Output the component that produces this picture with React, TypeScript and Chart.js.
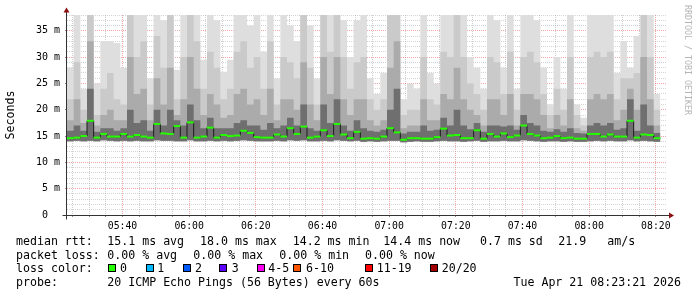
import React, { useEffect, useRef } from 'react';
import { Chart, registerables } from 'chart.js';

Chart.register(...registerables);

// Time axis in minutes after 05:00 (view: 05:23:21 .. 08:23:21)
const VIEW_START = 23.35;
const VIEW_END = 203.35;
const FIRST_BUCKET = 23.35;
const BUCKET_MIN = 2;
const Y_MAX = 38;

// median RTT (ms) per 2-minute bucket
const median = [
  14.6, 14.7, 15.0, 17.9, 14.7, 15.4, 14.9, 14.9, 15.4, 14.9,
  15.2, 14.9, 14.7, 17.3, 15.5, 15.4, 16.9, 14.7, 17.6, 14.7,
  14.9, 16.6, 14.7, 15.2, 15.0, 15.1, 16.0, 15.6, 14.8, 14.7,
  14.7, 15.3, 14.9, 16.5, 15.4, 16.8, 14.7, 14.9, 16.1, 15.0,
  17.3, 15.3, 14.6, 15.8, 14.5, 14.6, 14.5, 14.9, 16.5, 15.7,
  14.3, 14.6, 14.6, 14.5, 14.5, 14.8, 16.4, 15.1, 15.2, 14.6,
  14.6, 16.1, 14.5, 15.4, 14.9, 15.5, 14.8, 15.1, 17.0, 15.4,
  15.1, 14.6, 14.7, 15.0, 14.6, 14.7, 14.5, 14.5, 15.4, 15.4,
  14.9, 15.3, 14.9, 14.9, 17.9, 14.7, 15.3, 15.2, 14.6,
];

// smoke: lowest ping per bucket
const smokeLow = [
  14.0, 14.1, 14.0, 14.1, 14.0, 14.2, 14.1, 14.0, 14.1, 14.0,
  14.1, 14.0, 14.0, 14.2, 14.1, 14.1, 14.0, 14.0, 14.2, 14.0,
  14.0, 14.1, 14.0, 14.1, 14.0, 14.1, 14.2, 14.1, 14.0, 14.0,
  14.0, 14.1, 14.0, 14.2, 14.1, 14.2, 14.0, 14.0, 14.1, 14.0,
  14.2, 14.1, 14.0, 14.1, 13.9, 14.0, 13.9, 14.0, 14.1, 14.1,
  13.8, 13.9, 14.0, 13.9, 13.9, 14.0, 14.1, 14.0, 14.0, 13.9,
  14.0, 14.1, 13.9, 14.0, 14.0, 14.1, 14.0, 14.0, 14.2, 14.1,
  14.0, 13.9, 14.0, 14.0, 13.9, 14.0, 13.9, 13.9, 14.0, 14.1,
  14.0, 14.1, 14.0, 14.0, 14.2, 14.0, 14.1, 14.0, 13.9,
];

// smoke: top of darkest band
const smokeDark = [
  16.0, 17.0, 16.0, 24.0, 15.8, 16.5, 16.5, 16.0, 16.5, 20.0,
  17.5, 18.0, 16.0, 20.0, 17.0, 20.0, 18.0, 17.0, 21.0, 18.0,
  16.5, 18.5, 16.5, 16.5, 16.5, 17.5, 18.0, 17.0, 17.0, 16.2,
  17.5, 16.5, 17.0, 18.5, 17.0, 21.0, 16.5, 16.0, 21.0, 17.5,
  22.0, 17.0, 16.0, 18.0, 16.5, 16.0, 15.8, 16.2, 20.0, 24.0,
  15.5, 15.8, 15.8, 17.0, 16.0, 16.2, 18.5, 17.0, 20.0, 17.0,
  16.3, 17.5, 15.8, 17.0, 17.0, 16.8, 17.0, 16.2, 19.0, 17.5,
  17.0, 16.0, 15.8, 16.3, 15.8, 16.5, 15.6, 15.5, 17.0, 17.5,
  17.0, 17.5, 16.2, 16.5, 22.0, 16.0, 21.0, 17.0, 15.6,
];

// smoke: top of mid band
const smokeMid = [
  18.0, 22.0, 17.5, 33.0, 17.0, 19.0, 20.0, 18.0, 18.0, 30.0,
  23.0, 24.0, 18.0, 26.0, 21.0, 28.0, 19.0, 22.0, 30.0, 24.0,
  19.0, 23.0, 21.0, 18.5, 19.0, 23.0, 24.0, 21.0, 22.0, 19.0,
  24.0, 18.0, 22.0, 22.0, 20.0, 29.0, 21.0, 18.0, 30.0, 23.0,
  30.0, 22.0, 19.0, 22.0, 22.0, 18.0, 17.0, 18.0, 28.0, 33.0,
  16.5, 17.0, 17.0, 22.0, 18.0, 18.0, 23.0, 22.0, 28.0, 22.0,
  20.0, 19.0, 17.0, 22.0, 22.0, 19.0, 23.0, 17.0, 23.0, 23.0,
  22.0, 19.0, 16.5, 19.0, 17.0, 22.0, 16.5, 16.0, 22.0, 23.0,
  22.0, 23.0, 18.0, 20.0, 24.0, 20.0, 30.0, 22.0, 17.0,
];

// smoke: top of light band
const smokeLight = [
  22, 29, 20, 38, 19, 24, 27, 22, 21, 38,
  30, 33, 21, 34, 28, 38, 22, 30, 38, 33,
  24, 31, 28, 22, 24, 31, 33, 28, 30, 24,
  33, 21, 30, 29, 26, 38, 28, 21, 38, 31,
  38, 30, 24, 29, 30, 22, 20, 22, 38, 38,
  19, 20, 20, 30, 22, 21, 31, 30, 38, 30,
  25, 23, 20, 30, 29, 23, 31, 20, 30, 31,
  29, 23, 19, 24, 20, 30, 19, 17, 30, 31,
  30, 31, 22, 26, 26, 27, 38, 30, 20,
];

// smoke: highest ping per bucket (clipped at axis top)
const smokeMax = [
  28, 38, 24, 38, 25, 33, 33, 32.7, 28, 38,
  38, 38, 26, 38, 37, 38, 27.6, 38, 38, 38,
  29.5, 38, 37, 27.2, 29.5, 38, 38, 36, 38, 31,
  38, 26, 38, 36, 33, 38, 36, 26, 38, 38,
  38, 37, 30, 37, 38, 26, 23, 27, 38, 38,
  22, 25, 24, 38, 27, 25, 38, 38, 38, 38,
  30, 28, 24, 38, 37, 28, 38, 24, 38, 38,
  37, 28, 21, 30, 24, 38, 21, 18.5, 38, 38,
  38, 38, 27, 33, 28, 34, 30, 38, 23,
];

const xGridMinutes = [25, 30, 35, 40, 45, 50, 55, 60, 65, 70, 75, 80, 85, 90, 95, 100, 105, 110, 115, 120, 125, 130, 135, 140, 145, 150, 155, 160, 165, 170, 175, 180, 185, 190, 195, 200];
const xLabelMinutes = [40, 60, 80, 100, 120, 140, 160, 180, 200];
const xLabelTexts = ['05:40', '06:00', '06:20', '06:40', '07:00', '07:20', '07:40', '08:00', '08:20'];
const yGridValues = [0, 1, 2, 3, 4, 5, 6, 7, 8, 9, 10, 11, 12, 13, 14, 15, 16, 17, 18, 19, 20, 21, 22, 23, 24, 25, 26, 27, 28, 29, 30, 31, 32, 33, 34, 35, 36, 37, 38];
const yLabelValues = [0, 5, 10, 15, 20, 25, 30, 35];
const yLabelTexts = ['0  ', '5 m', '10 m', '15 m', '20 m', '25 m', '30 m', '35 m'];

const rttStats = ['15.1 ms avg', '18.0 ms max', '14.2 ms min', '14.4 ms now', '0.7 ms sd', '21.9', 'am/s'];
const lossStats = ['0.00 % avg', '0.00 % max', '0.00 % min', '0.00 % now'];
const lossLabels = ['0', '1', '2', '3', '4-5', '6-10', '11-19', '20/20'];
const lossColors = ['#26ff00', '#00b8ff', '#0059ff', '#5e00ff', '#ff00f5', '#ff5500', '#ff0000', '#a10000'];
const probeText = '20 ICMP Echo Pings (56 Bytes) every 60s';
const stampText = 'Tue Apr 21 08:23:21 2026';
const yTitle = 'Seconds';
const watermark = 'RRDTOOL / TOBI OETIKER';

const MONO = '"DejaVu Sans Mono", monospace';

function stepPoints(arr: number[]) {
  const pts = arr.map((v, i) => ({ x: FIRST_BUCKET + i * BUCKET_MIN, y: v }));
  pts.push({ x: FIRST_BUCKET + arr.length * BUCKET_MIN, y: arr[arr.length - 1] });
  return pts;
}

const overlayPlugin = {
  id: 'rrdOverlay',
  afterDraw(chart: any) {
    const { ctx, chartArea: a } = chart;
    ctx.save();
    const ax = Math.round(a.left) - 0.5;
    const ay = Math.round(a.bottom) + 0.5;
    // axes
    ctx.strokeStyle = '#333333';
    ctx.lineWidth = 1;
    ctx.setLineDash([]);
    ctx.beginPath();
    ctx.moveTo(ax, a.top - 3);
    ctx.lineTo(ax, ay + 4);
    ctx.stroke();
    ctx.beginPath();
    ctx.moveTo(ax - 4, ay);
    ctx.lineTo(a.right + 2, ay);
    ctx.stroke();
    // arrows
    ctx.fillStyle = '#8c1111';
    ctx.beginPath();
    ctx.moveTo(ax - 3, a.top - 2.5);
    ctx.lineTo(ax + 3, a.top - 2.5);
    ctx.lineTo(ax, a.top - 7.5);
    ctx.closePath();
    ctx.fill();
    ctx.beginPath();
    ctx.moveTo(a.right + 2, ay - 3);
    ctx.lineTo(a.right + 2, ay + 3);
    ctx.lineTo(a.right + 7, ay);
    ctx.closePath();
    ctx.fill();

    // y title
    ctx.fillStyle = '#000';
    ctx.font = `11.6px ${MONO}`;
    ctx.save();
    ctx.translate(11, (a.top + a.bottom) / 2);
    ctx.rotate(-Math.PI / 2);
    ctx.textAlign = 'center';
    ctx.textBaseline = 'middle';
    ctx.fillText(yTitle, 0, 0);
    ctx.restore();

    // watermark
    ctx.save();
    ctx.fillStyle = '#b4b4b4';
    ctx.font = `8.3px ${MONO}`;
    ctx.translate(687, 5);
    ctx.rotate(Math.PI / 2);
    ctx.textAlign = 'left';
    ctx.textBaseline = 'middle';
    ctx.fillText(watermark, 0, 0);
    ctx.restore();

    // legend
    ctx.font = `11.6px ${MONO}`;
    ctx.textAlign = 'left';
    ctx.textBaseline = 'alphabetic';
    ctx.fillStyle = '#000';
    const rttX = [107.3, 200, 292.7, 383.3, 480, 558.3, 607.3];
    ctx.fillText('median rtt:', 16, 245);
    rttStats.forEach((s, i) => ctx.fillText(s, rttX[i], 245));
    const lossX = [107.3, 193.3, 279.3, 365];
    ctx.fillText('packet loss:', 16, 258.5);
    lossStats.forEach((s, i) => ctx.fillText(s, lossX[i], 258.5));
    ctx.fillText('loss color:', 16, 272);
    const boxX = [108, 146, 183, 219, 257, 293, 365, 430];
    const lblX = [120, 157.3, 195, 231.7, 268.3, 306, 376.7, 441.7];
    lossLabels.forEach((s, i) => {
      ctx.fillStyle = lossColors[i];
      ctx.fillRect(boxX[i], 264, 8, 8);
      ctx.strokeStyle = '#000';
      ctx.strokeRect(boxX[i] + 0.5, 264.5, 7, 7);
      ctx.fillStyle = '#000';
      ctx.fillText(s, lblX[i], 272);
    });
    ctx.fillText('probe:', 16, 286);
    ctx.fillText(probeText, 107.3, 286);
    ctx.textAlign = 'right';
    ctx.fillText(stampText, 681, 286);
    ctx.restore();
  },
};

export default function App() {
  const ref = useRef<HTMLCanvasElement | null>(null);

  useEffect(() => {
    document.body.style.margin = '0';
    const canvas = ref.current;
    if (!canvas) return;

    const fillLayer = (data: number[], color: string, order: number) => ({
      type: 'line' as const,
      data: stepPoints(data),
      stepped: 'before' as const,
      borderWidth: 0,
      borderColor: 'transparent',
      backgroundColor: color,
      pointRadius: 0,
      fill: { target: 0 },
      order,
    });

    const chart = new Chart(canvas, {
      type: 'line',
      data: {
        datasets: [
          {
            type: 'line',
            data: stepPoints(smokeLow),
            stepped: 'before',
            borderWidth: 0,
            borderColor: 'transparent',
            pointRadius: 0,
            fill: false,
            order: 10,
          },
          fillLayer(smokeMax, '#dedede', 9),
          fillLayer(smokeLight, '#cacaca', 8),
          fillLayer(smokeMid, '#ababab', 7),
          fillLayer(smokeDark, '#6f6f6f', 6),
          {
            type: 'line',
            data: stepPoints(median),
            stepped: 'before',
            borderWidth: 1,
            borderColor: '#1c1c1c',
            pointRadius: 0,
            fill: false,
            order: 2,
          },
          {
            type: 'line',
            data: median.map((v, i) => ({ x: FIRST_BUCKET + i * BUCKET_MIN + BUCKET_MIN / 2, y: v })),
            showLine: false,
            pointStyle: 'line',
            pointRadius: 3.4,
            pointBorderWidth: 2,
            pointBorderColor: '#26ff00',
            pointBackgroundColor: '#26ff00',
            fill: false,
            order: 1,
          },
        ] as any,
      },
      options: {
        responsive: false,
        animation: false,
        devicePixelRatio: 1,
        events: [],
        layout: { padding: { left: 0, right: 30, top: 15, bottom: 0 } },
        plugins: { legend: { display: false }, tooltip: { enabled: false } },
        scales: {
          x: {
            type: 'linear',
            position: 'bottom',
            min: VIEW_START,
            max: VIEW_END,
            z: 1,
            afterBuildTicks: (s: any) => {
              s.ticks = xGridMinutes.map((v) => ({ value: v }));
            },
            afterFit: (s: any) => {
              s.height = 82;
            },
            ticks: {
              autoSkip: false,
              maxRotation: 0,
              minRotation: 0,
              padding: 4,
              color: '#000',
              font: { family: MONO, size: 9.8 },
              callback: (v: any) => {
                const idx = xLabelMinutes.indexOf(Math.round(Number(v)));
                return idx >= 0 ? xLabelTexts[idx] : '';
              },
            },
            grid: {
              lineWidth: 1,
              drawTicks: true,
              tickLength: 2,
              tickColor: 'rgba(90,90,90,0.7)',
              color: (c: any) =>
                xLabelMinutes.indexOf(Math.round(c.tick?.value)) >= 0
                  ? 'rgba(230,80,80,0.5)'
                  : 'rgba(150,150,150,0.45)',
            },
            border: { display: false, dash: [1, 1] },
          },
          y: {
            type: 'linear',
            position: 'left',
            min: 0,
            max: Y_MAX,
            z: 1,
            afterBuildTicks: (s: any) => {
              s.ticks = yGridValues.map((v) => ({ value: v }));
            },
            afterFit: (s: any) => {
              s.width = 67;
            },
            ticks: {
              autoSkip: false,
              padding: 5,
              color: '#000',
              font: { family: MONO, size: 10 },
              callback: (v: any) => {
                const idx = yLabelValues.indexOf(Math.round(Number(v)));
                return idx >= 0 ? yLabelTexts[idx] : '';
              },
            },
            grid: {
              lineWidth: 1,
              drawTicks: true,
              tickLength: 2,
              tickColor: (c: any) =>
                yLabelValues.indexOf(Math.round(c.tick?.value)) >= 0 ? 'rgba(90,90,90,0.7)' : 'rgba(0,0,0,0)',
              color: (c: any) =>
                yLabelValues.indexOf(Math.round(c.tick?.value)) >= 0
                  ? 'rgba(230,80,80,0.5)'
                  : 'rgba(150,150,150,0.4)',
            },
            border: { display: false, dash: [1, 1] },
          },
        },
      },
      plugins: [overlayPlugin],
    } as any);

    return () => chart.destroy();
  }, []);

  return (
    <div style={{ position: 'fixed', left: 0, top: 0, width: 697, height: 297, background: '#fff' }}>
      <canvas ref={ref} width={697} height={297} style={{ display: 'block', width: 697, height: 297 }} />
    </div>
  );
}
